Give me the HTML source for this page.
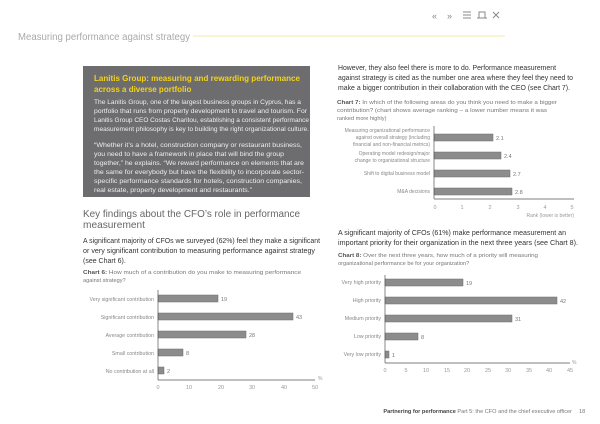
<!DOCTYPE html>
<html><head><meta charset="utf-8"><style>
html,body{margin:0;padding:0;background:#fff;}
svg{display:block;font-family:"Liberation Sans",sans-serif;}
</style></head><body>
<svg width="600" height="424" viewBox="0 0 600 424" xmlns="http://www.w3.org/2000/svg">
<!-- header -->
<text x="432" y="19" font-size="9" fill="#888">«</text>
<text x="447" y="19" font-size="9" fill="#888">»</text>
<g stroke="#888" stroke-width="1" fill="none">
<line x1="463" y1="12" x2="471" y2="12"/><line x1="463" y1="15" x2="471" y2="15"/><line x1="463" y1="18" x2="471" y2="18"/>
<path d="M477 18 H487 M479 18 V12 H485 V18"/>
<path d="M493 12 L499 18 M499 12 L493 18"/>
</g>
<text x="18" y="40" font-size="10" fill="#aaa" textLength="172" lengthAdjust="spacingAndGlyphs">Measuring performance against strategy</text>
<line x1="193" y1="36" x2="505" y2="36" stroke="#f3eaa6" stroke-width="1"/>

<!-- gray box -->
<rect x="83" y="66" width="227" height="131" fill="#6d6d6f"/>
<g font-size="8" font-weight="bold" fill="#f2d21c">
<text x="94" y="81" textLength="206" lengthAdjust="spacingAndGlyphs">Lanitis Group: measuring and rewarding performance</text>
<text x="94" y="92">across a diverse portfolio</text>
</g>
<g font-size="6" fill="#eee" lengthAdjust="spacingAndGlyphs">
<text x="94" y="104" textLength="207" lengthAdjust="spacingAndGlyphs">The Lanitis Group, one of the largest business groups in Cyprus, has a</text>
<text x="94" y="113" textLength="213" lengthAdjust="spacingAndGlyphs">portfolio that runs from property development to travel and tourism. For</text>
<text x="94" y="122" textLength="215" lengthAdjust="spacingAndGlyphs">Lanitis Group CEO Costas Charitou, establishing a consistent performance</text>
<text x="94" y="131" textLength="215" lengthAdjust="spacingAndGlyphs">measurement philosophy is key to building the right organizational culture.</text>
<text x="94" y="147" textLength="208" lengthAdjust="spacingAndGlyphs">“Whether it’s a hotel, construction company or restaurant business,</text>
<text x="94" y="156" textLength="190" lengthAdjust="spacingAndGlyphs">you need to have a framework in place that will bind the group</text>
<text x="94" y="165" textLength="210" lengthAdjust="spacingAndGlyphs">together,” he explains. “We reward performance on elements that are</text>
<text x="94" y="174" textLength="210" lengthAdjust="spacingAndGlyphs">the same for everybody but have the flexibility to incorporate sector-</text>
<text x="94" y="183" textLength="208" lengthAdjust="spacingAndGlyphs">specific performance standards for hotels, construction companies,</text>
<text x="94" y="192" textLength="158" lengthAdjust="spacingAndGlyphs">real estate, property development and restaurants.”</text>
</g>

<!-- right top paragraph -->
<g font-size="7" fill="#333">
<text x="338" y="70" textLength="218" lengthAdjust="spacingAndGlyphs">However, they also feel there is more to do. Performance measurement</text>
<text x="338" y="80" textLength="235" lengthAdjust="spacingAndGlyphs">against strategy is cited as the number one area where they feel they need to</text>
<text x="338" y="90" textLength="232" lengthAdjust="spacingAndGlyphs">make a bigger contribution in their collaboration with the CEO (see Chart 7).</text>
</g>
<g font-size="5.6" fill="#777">
<text x="337" y="104" textLength="220" lengthAdjust="spacingAndGlyphs"><tspan font-weight="bold" fill="#555">Chart 7:</tspan> In which of the following areas do you think you need to make a bigger</text>
<text x="337" y="112" textLength="210" lengthAdjust="spacingAndGlyphs">contribution? (chart shows average ranking – a lower number means it was</text>
<text x="337" y="120">ranked more highly)</text>
</g>
<!-- chart 7 -->
<g font-size="5" fill="#888" text-anchor="end">
<text x="430" y="132">Measuring organizational performance</text>
<text x="430" y="139">against overall strategy (including</text>
<text x="430" y="146">financial and non-financial metrics)</text>
<text x="430" y="155">Operating model redesign/major</text>
<text x="430" y="162">change to organizational structure</text>
<text x="430" y="175">Shift to digital business model</text>
<text x="430" y="193">M&amp;A decisions</text>
</g>
<g fill="#8c8c8c" stroke="#6e6e6e" stroke-width="0.5">
<rect x="434" y="134" width="59" height="7"/>
<rect x="434" y="152" width="67" height="7"/>
<rect x="434" y="170" width="76" height="7"/>
<rect x="434" y="188" width="78" height="7"/>
</g>
<g font-size="5.5" fill="#777">
<text x="496" y="140">2.1</text><text x="504" y="158">2.4</text><text x="513" y="176">2.7</text><text x="515" y="194">2.8</text>
</g>
<line x1="434" y1="126" x2="434" y2="199" stroke="#555" stroke-width="0.7"/>
<line x1="434" y1="199" x2="574" y2="199" stroke="#555" stroke-width="0.7"/>
<g font-size="5.5" fill="#999" text-anchor="middle">
<text x="435" y="209">0</text><text x="462" y="209">1</text><text x="490" y="209">2</text><text x="518" y="209">3</text><text x="545" y="209">4</text><text x="572" y="209">5</text>
</g>
<text x="574" y="217" font-size="5" fill="#999" text-anchor="end">Rank (lower is better)</text>

<!-- left bottom -->
<g font-size="10.5" fill="#666">
<text x="83" y="217" textLength="217" lengthAdjust="spacingAndGlyphs">Key findings about the CFO’s role in performance</text>
<text x="83" y="228" textLength="62" lengthAdjust="spacingAndGlyphs">measurement</text>
</g>
<g font-size="7" fill="#333">
<text x="83" y="243" textLength="237" lengthAdjust="spacingAndGlyphs">A significant majority of CFOs we surveyed (62%) feel they make a significant</text>
<text x="83" y="253" textLength="232" lengthAdjust="spacingAndGlyphs">or very significant contribution to measuring performance against strategy</text>
<text x="83" y="263">(see Chart 6).</text>
</g>
<g font-size="5.6" fill="#777">
<text x="83" y="274" textLength="218" lengthAdjust="spacingAndGlyphs"><tspan font-weight="bold" fill="#555">Chart 6:</tspan> How much of a contribution do you make to measuring performance</text>
<text x="83" y="282">against strategy?</text>
</g>
<g font-size="5.3" fill="#888" text-anchor="end">
<text x="154" y="301">Very significant contribution</text>
<text x="154" y="319">Significant contribution</text>
<text x="154" y="337">Average contribution</text>
<text x="154" y="355">Small contribution</text>
<text x="154" y="373">No contribution at all</text>
</g>
<g fill="#8c8c8c" stroke="#6e6e6e" stroke-width="0.5">
<rect x="158" y="295" width="60" height="7"/>
<rect x="158" y="313" width="135" height="7"/>
<rect x="158" y="331" width="88" height="7"/>
<rect x="158" y="349" width="25" height="7"/>
<rect x="158" y="367" width="6" height="7"/>
</g>
<g font-size="5.5" fill="#777">
<text x="221" y="301">19</text><text x="296" y="319">43</text><text x="249" y="337">28</text><text x="186" y="355">8</text><text x="167" y="373">2</text>
</g>
<line x1="158" y1="290" x2="158" y2="380" stroke="#555" stroke-width="0.7"/>
<line x1="158" y1="380" x2="315" y2="380" stroke="#555" stroke-width="0.7"/>
<g font-size="5.5" fill="#999" text-anchor="middle">
<text x="158" y="389">0</text><text x="189" y="389">10</text><text x="221" y="389">20</text><text x="252" y="389">30</text><text x="284" y="389">40</text><text x="315" y="389">50</text>
</g>
<text x="318" y="380" font-size="5" fill="#999">%</text>

<!-- right bottom -->
<g font-size="7" fill="#333">
<text x="338" y="235" textLength="228" lengthAdjust="spacingAndGlyphs">A significant majority of CFOs (61%) make performance measurement an</text>
<text x="338" y="245" textLength="240" lengthAdjust="spacingAndGlyphs">important priority for their organization in the next three years (see Chart 8).</text>
</g>
<g font-size="5.6" fill="#777">
<text x="338" y="257" textLength="200" lengthAdjust="spacingAndGlyphs"><tspan font-weight="bold" fill="#555">Chart 8:</tspan> Over the next three years, how much of a priority will measuring</text>
<text x="338" y="265">organizational performance be for your organization?</text>
</g>
<g font-size="5.3" fill="#888" text-anchor="end">
<text x="381" y="284">Very high priority</text>
<text x="381" y="302">High priority</text>
<text x="381" y="320">Medium priority</text>
<text x="381" y="338">Low priority</text>
<text x="381" y="356">Very low priority</text>
</g>
<g fill="#8c8c8c" stroke="#6e6e6e" stroke-width="0.5">
<rect x="385" y="279" width="78" height="7"/>
<rect x="385" y="297" width="172" height="7"/>
<rect x="385" y="315" width="127" height="7"/>
<rect x="385" y="333" width="33" height="7"/>
<rect x="385" y="351" width="4" height="7"/>
</g>
<g font-size="5.5" fill="#777">
<text x="466" y="285">19</text><text x="560" y="303">42</text><text x="515" y="321">31</text><text x="421" y="339">8</text><text x="392" y="357">1</text>
</g>
<line x1="385" y1="275" x2="385" y2="363" stroke="#555" stroke-width="0.7"/>
<line x1="385" y1="363" x2="570" y2="363" stroke="#555" stroke-width="0.7"/>
<g font-size="5.5" fill="#999" text-anchor="middle">
<text x="385" y="372">0</text><text x="406" y="372">5</text><text x="426" y="372">10</text><text x="447" y="372">15</text><text x="467" y="372">20</text><text x="488" y="372">25</text><text x="508" y="372">30</text><text x="529" y="372">35</text><text x="549" y="372">40</text><text x="570" y="372">45</text>
</g>
<text x="572" y="364" font-size="5" fill="#999">%</text>

<!-- footer -->
<text x="572" y="413" font-size="5.6" fill="#777" text-anchor="end"><tspan font-weight="bold" fill="#444">Partnering for performance</tspan> Part 5: the CFO and the chief executive officer</text>
<text x="579" y="413" font-size="5.6" fill="#777">18</text>
</svg>
</body></html>
